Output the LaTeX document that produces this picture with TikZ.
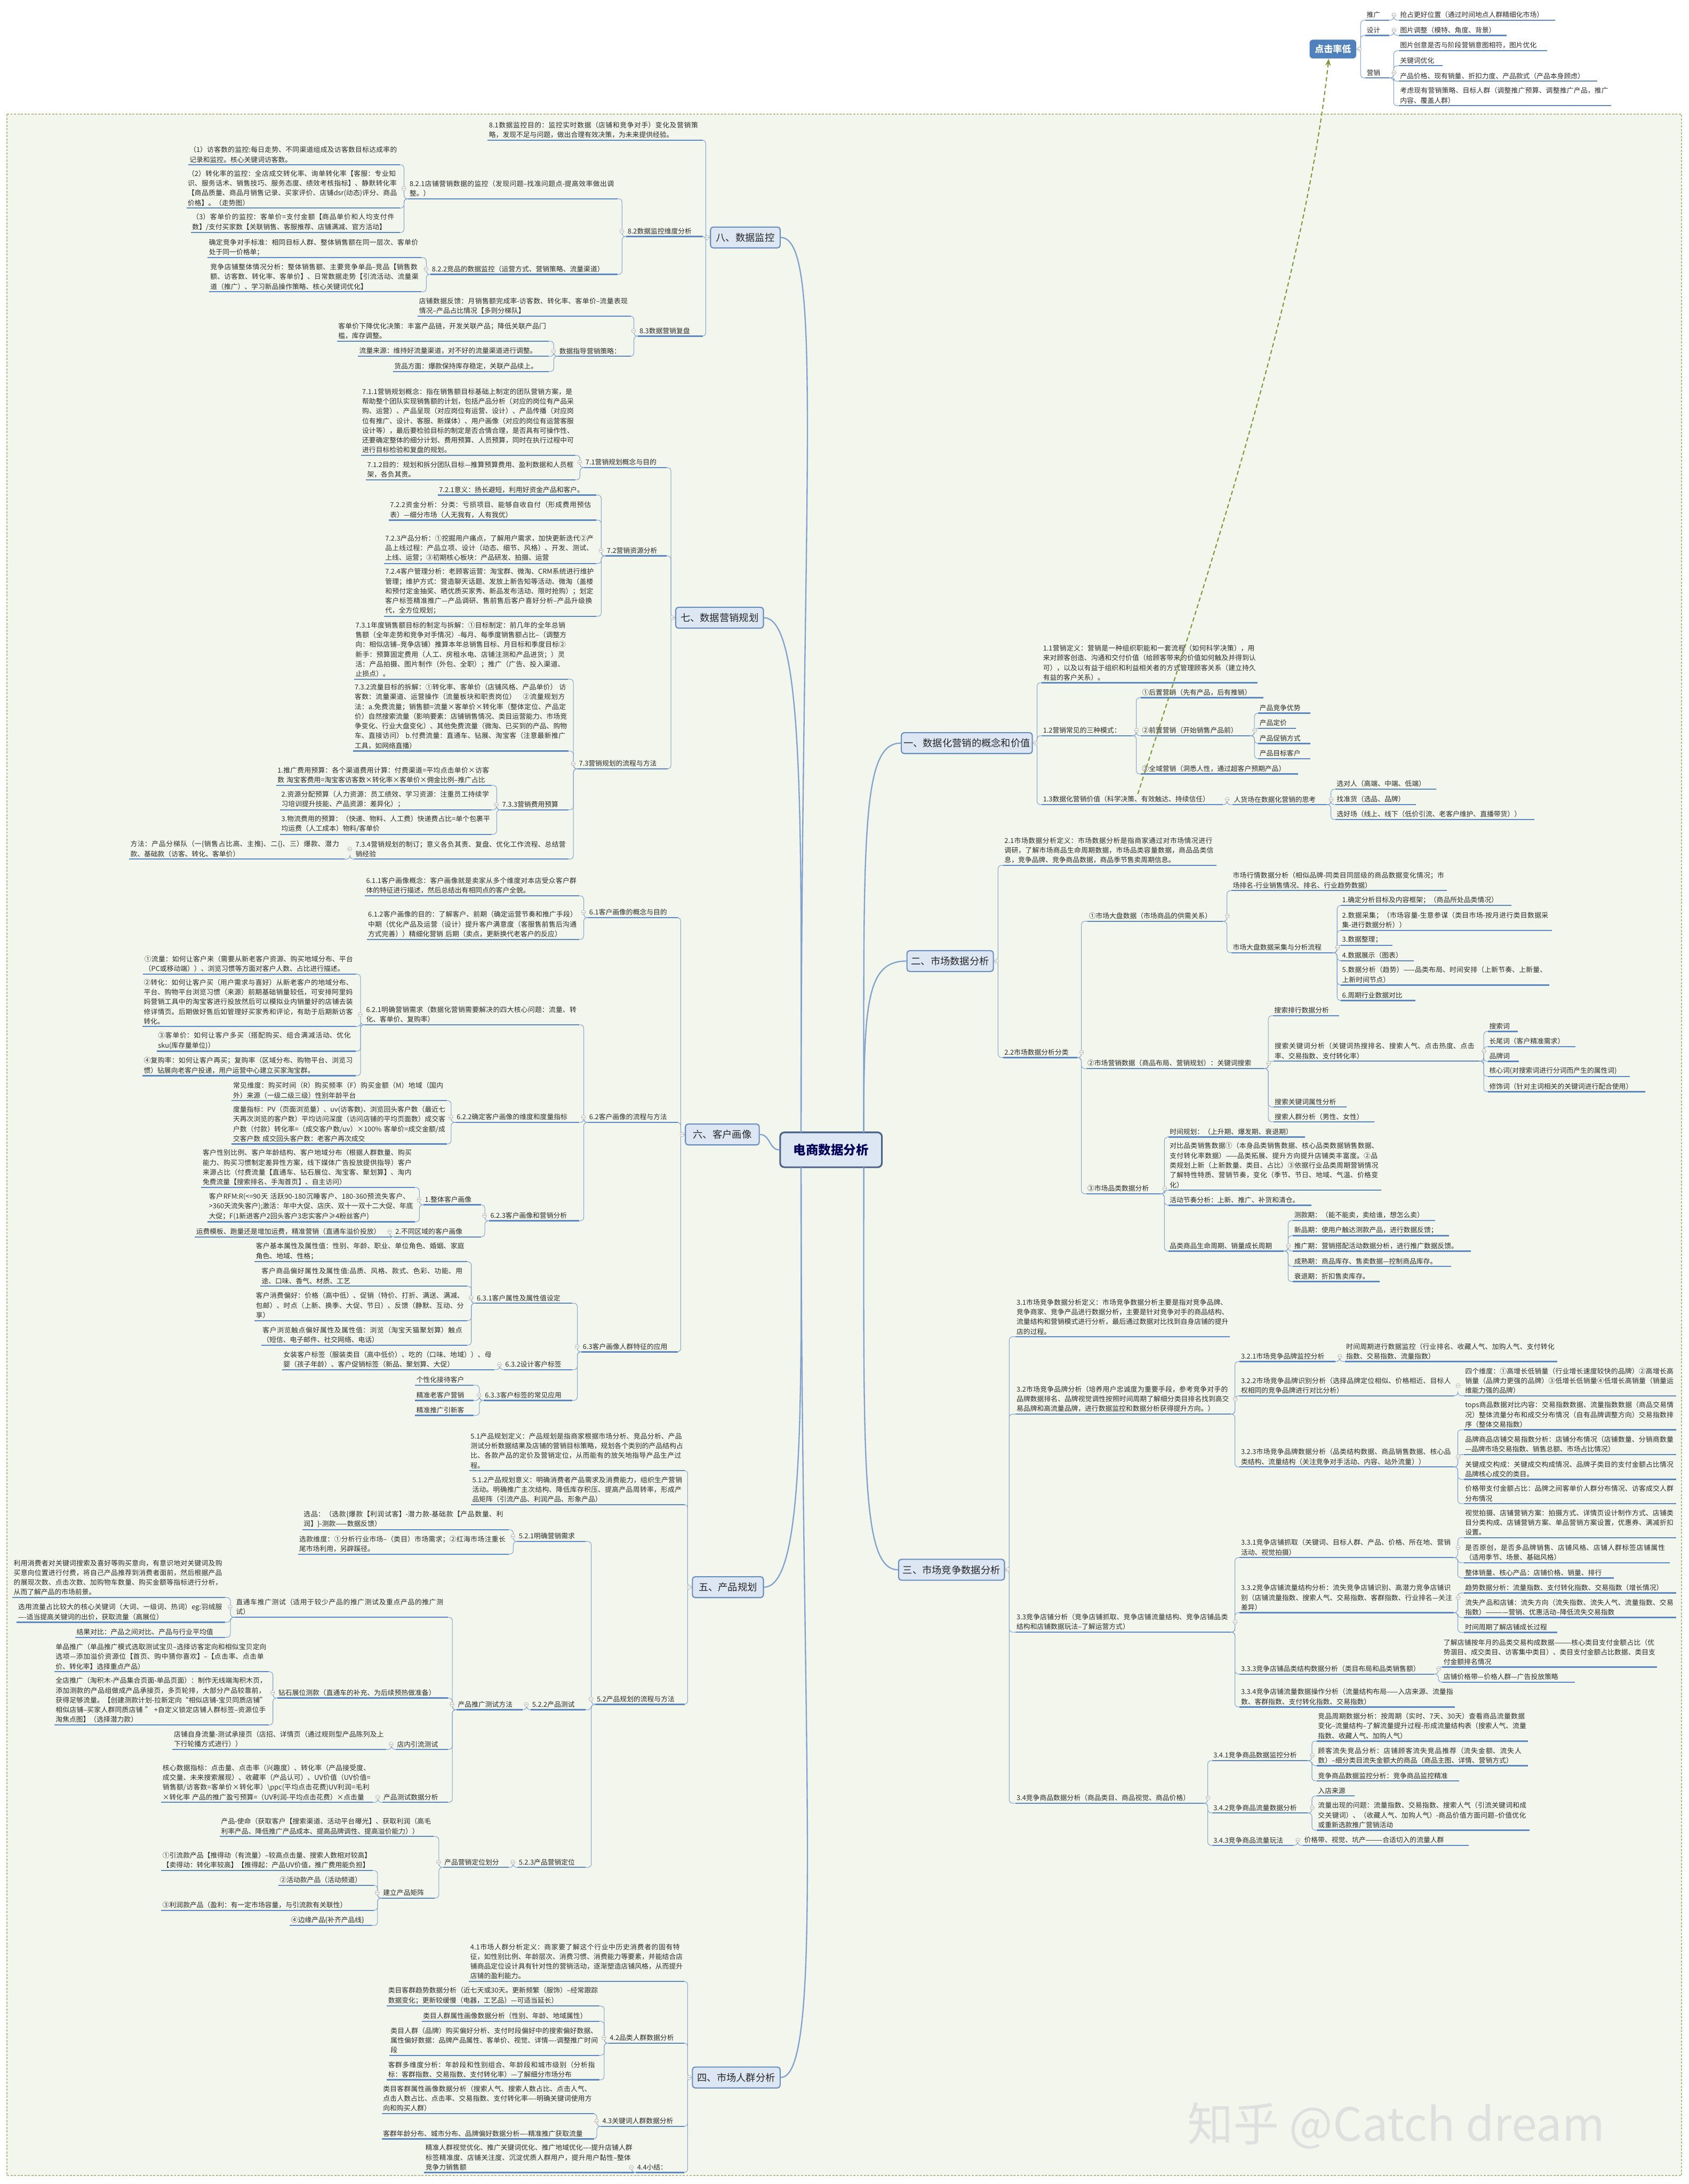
\documentclass[tikz,border=0pt]{standalone}
\usepackage{fontspec}
\setmainfont{Noto Sans CJK SC}
\XeTeXlinebreaklocale "zh"
\XeTeXlinebreakskip=0pt plus 1pt
\usetikzlibrary{arrows.meta}
\definecolor{ulc}{HTML}{5B87C5}
\definecolor{cnc}{HTML}{7FA2D0}
\definecolor{bgc}{HTML}{F3F6EC}
\definecolor{bdc}{HTML}{B4B98A}
\definecolor{boxf}{HTML}{DDE7F4}
\definecolor{boxd}{HTML}{6A8DC0}
\definecolor{txc}{HTML}{2B2B2B}
\definecolor{arrc}{HTML}{7A9A3A}
\definecolor{topf}{HTML}{4F81BD}
\tikzset{
  leaf/.style={inner xsep=0.8pt, inner ysep=1.3pt, align=left, font=\fontsize{4.9}{7}\selectfont, text=txc},
  ul/.style={draw=ulc, line width=0.9pt},
  conn/.style={draw=cnc, line width=0.4pt, rounded corners=2.5pt},
  coll/.style={circle, draw=gray!60, fill=white, line width=0.3pt, inner sep=0pt, minimum size=3pt,
    path picture={\draw[gray!70, line width=0.3pt] ([xshift=-0.9pt]path picture bounding box.center) -- ([xshift=0.9pt]path picture bounding box.center);}},
  lvlone/.style={draw=boxd, fill=boxf, rounded corners=2pt, line width=0.8pt, font=\fontsize{7}{8}\selectfont, text=black!85, minimum height=15pt, inner xsep=1pt},
  cbox/.style={draw=boxd!70!black, fill=boxf, rounded corners=3pt, line width=1.2pt, font=\fontsize{9}{10}\selectfont\bfseries, text=blue!35!black, minimum width=73pt, minimum height=25pt},
  topbox/.style={fill=topf, rounded corners=2.5pt, text=white, font=\fontsize{6.5}{7}\selectfont\bfseries, minimum width=33.5pt, minimum height=13.5pt, inner sep=0pt},
  mainln/.style={draw=cnc, line width=0.9pt}
}
\newcommand\MN[5]{\pgfmathsetmacro\tw{#3-#2-1.6}\node[leaf,text width=\tw pt,anchor=south west] (#1) at (#2,#4) {#5};\draw[ul] (#1.south west) -- (#1.south east);}
\newcommand\MS[5]{\MN{#1}{#2}{#3}{#4}{\mbox{#5}}}
\newcommand\LL[2]{\foreach \kid in {#2}{\draw[conn] (#1.south west) -- ++(-3,0) |- (\kid.south east);}\node[coll] at ([xshift=-3.2pt]#1.west) {};}
\newcommand\RR[2]{\foreach \kid in {#2}{\draw[conn] (#1.south east) -- ++(3,0) |- (\kid.south west);}\node[coll] at ([xshift=3.2pt]#1.east) {};}
\newcommand\LB[2]{\foreach \kid in {#2}{\draw[conn] (#1.west) -- ++(-3,0) |- (\kid.south east);}\node[coll] at ([xshift=-2pt]#1.west) {};}
\newcommand\RB[2]{\foreach \kid in {#2}{\draw[conn] (#1.east) -- ++(3,0) |- (\kid.south west);}\node[coll] at ([xshift=2pt]#1.east) {};}
\begin{document}
\begin{tikzpicture}[x=1pt,y=-1pt]
\useasboundingbox (0,0) rectangle (1212,1568);
\fill[white] (0,0) rectangle (1212,1568);
\fill[bgc] (5,82) rectangle (1207,1562);
\draw[bdc, line width=0.8pt, dash pattern=on 1.5pt off 1pt] (5,82) rectangle (1207,1562);

% ===== top right group =====
\node[topbox] (ctr0) at (956.75,35.25) {点击率低};
\MS{tg}{980}{997}{14.5}{推广}
\MS{sj}{980}{997}{25.4}{设计}
\MS{yx}{980}{997}{56}{营销}
\MS{tga}{1004}{1116}{14.5}{抢占更好位置（通过时间地点人群精细化市场）}
\MS{sja}{1004}{1081}{25.4}{图片调整（模特、角度、背景）}
\MS{yxa}{1004}{1110}{36.4}{图片创意是否与阶段营销意图相符，图片优化}
\MS{yxb}{1004}{1035}{47.2}{关键词优化}
\MS{yxc}{1004}{1146}{58.3}{产品价格、现有销量、折扣力度、产品款式（产品本身顾虑）}
\MN{yxd}{1004}{1156}{75.9}{考虑现有营销策略、目标人群（调整推广预算、调整推广产品，推广内容、覆盖人群）}
\RB{ctr0}{tg,sj,yx}
\RR{tg}{tga}
\RR{sj}{sja}
\RR{yx}{yxa,yxb,yxc,yxd}

% ===== first level boxes =====
\node[cbox] (c) at (596.5,825.5) {电商数据分析};
\node[lvlone, minimum width=50pt] (t8) at (535,170.5) {八、数据监控};
\node[lvlone, minimum width=63pt] (t7) at (516.5,443.5) {七、数据营销规划};
\node[lvlone, minimum width=53pt] (t6) at (518.5,814.5) {六、客户画像};
\node[lvlone, minimum width=51pt] (t5) at (522.5,1139.5) {五、产品规划};
\node[lvlone, minimum width=63pt] (t4) at (528.5,1491.5) {四、市场人群分析};
\node[lvlone, minimum width=94pt] (t1) at (694,533.5) {一、数据化营销的概念和价值};
\node[lvlone, minimum width=62pt] (t2) at (682,690) {二、市场数据分析};
\node[lvlone, minimum width=76pt] (t3) at (683,1127) {三、市场竞争数据分析};

\draw[mainln] (575,813) .. controls (575,350) and (592,170.5) .. (t8.east);
\draw[mainln] (575,813) .. controls (575,600) and (578,443.5) .. (t7.east);
\draw[mainln] (c.west) .. controls (552,825.5) and (553,814.5) .. (t6.east);
\draw[mainln] (575,838) .. controls (575,1000) and (578,1139.5) .. (t5.east);
\draw[mainln] (575,838) .. controls (575,1250) and (592,1491.5) .. (t4.east);
\draw[mainln] (620,813) .. controls (620,600) and (618,533.5) .. (t1.west);
\draw[mainln] (620,813) .. controls (620,720) and (622,690) .. (t2.west);
\draw[mainln] (620,838) .. controls (620,1050) and (618,1127) .. (t3.west);

% ===== 八 =====
\MN{e1}{350}{504}{100.7}{8.1数据监控目的：监控实时数据（店铺和竞争对手）变化及营销策略，发现不足与问题，做出合理有效决策，为未来提供经验。}
\MS{e2}{449.5}{504}{169.8}{8.2数据监控维度分析}
\MS{e3}{458}{504}{241.3}{8.3数据营销复盘}
\MN{e21}{293}{443}{142.7}{8.2.1店铺营销数据的监控（发现问题--找准问题点-提高效率做出调整。）}
\MS{e22}{309}{443}{197}{8.2.2竞品的数据监控（运营方式、营销策略、流量渠道）}
\MN{e211}{135}{286.6}{118.3}{（1）访客数的监控:每日走势、不同渠道组成及访客数目标达成率的记录和监控。核心关键词访客数。}
\MN{e212}{133.8}{286.6}{149.4}{（2）转化率的监控：全店成交转化率、询单转化率【客服：专业知识、服务话术、销售技巧、服务态度、绩效考核指标】、静默转化率【商品质量、商品月销售记录、买家评价、店铺dsr(动态)评分、商品价格】。（走势图）}
\MN{e213}{137}{286.6}{167}{（3）客单价的监控：客单价=支付金额【商品单价和人均支付件数】/支付买家数【关联销售、客服推荐、店铺满减、官方活动】}
\MN{e221}{149}{302}{185}{确定竞争对手标准：相同目标人群、整体销售额在同一层次、客单价处于同一价格单；}
\MN{e222}{150}{302}{209.5}{竞争店铺整体情况分析：整体销售额、主要竞争单品--竞品【销售数额、访客数、转化率、客单价】、日常数据走势【引流活动、流量渠道（推广）、学习新品操作策略、核心关键词优化】}
\MN{e31}{299.8}{452.6}{227}{店铺数据反馈：月销售额完成率-访客数、转化率、客单价--流量表现情况--产品占比情况【多则分梯队】}
\MS{e32}{400.5}{452.6}{255.8}{数据指导营销策略：}
\MN{e321}{241.8}{393.4}{245}{客单价下降优化决策：丰富产品链，开发关联产品；降低关联产品门槛，库存调整。}
\MS{e322}{256.9}{393.4}{255.8}{流量来源：维持好流量渠道，对不好的流量渠道进行调整。}
\MS{e323}{282}{393.4}{266.7}{货品方面：爆款保持库存稳定，关联产品续上。}
\LB{t8}{e1,e2,e3}
\LL{e2}{e21,e22}
\LL{e21}{e211,e212,e213}
\LL{e22}{e221,e222}
\LL{e3}{e31,e32}
\LL{e32}{e321,e322,e323}

% ===== 七 =====
\MN{s11}{259}{412.5}{326.9}{7.1.1营销规划概念：指在销售额目标基础上制定的团队营销方案，是帮助整个团队实现销售额的计划，包括产品分析（对应的岗位有产品采购、运营）、产品呈现（对应岗位有运营、设计）、产品传播（对应岗位有推广、设计、客服、新媒体）、用户画像（对应的岗位有运营客服设计等），最后要检验目标的制定是否合情合理，是否具有可操作性、还要确定整体的细分计划、费用预算、人员预算，同时在执行过程中可进行目标检验和复盘的规划。}
\MN{s12}{262.6}{412.5}{344.5}{7.1.2目的：规划和拆分团队目标---推算预算费用、盈利数据和人员框架，各负其责。}
\MS{s1}{419.3}{478}{335.7}{7.1营销规划概念与目的}
\MS{s21}{314.2}{427.4}{355.4}{7.2.1意义：扬长避短，利用好资金产品和客户。}
\MN{s22}{279}{427.4}{373.4}{7.2.2资金分析：分类：亏损项目、能够自收自付（形成费用预估表）---细分市场（人无我有，人有我优）}
\MN{s23}{275.5}{427.4}{404.6}{7.2.3产品分析：①挖掘用户痛点，了解用户需求，加快更新迭代②产品上线过程：产品立项、设计（动态、细节、风格）、开发、测试、上线、运营；③初期核心板块：产品研发、拍摄、运营}
\MN{s24}{275.5}{427.4}{442.5}{7.2.4客户管理分析：老顾客运营：淘宝群、微淘、CRM系统进行维护管理；维护方式：营造聊天话题、发放上新告知等活动、微淘（盖楼和预付定金抽奖、晒优质买家秀、新品发布活动、限时抢购）；划定客户标签精准推广---产品调研、售前售后客户喜好分析--产品升级换代，全方位规划；}
\MS{s2}{434.6}{478}{399.1}{7.2营销资源分析}
\MN{s31}{254.2}{407.3}{487.6}{7.3.1年度销售额目标的制定与拆解：①目标制定：前几年的全年总销售额（全年走势和竞争对手情况）-每月、每季度销售额占比--（调整方向：相似店铺--竞争店铺）推算本年总销售目标、月目标和季度目标②新手：预算固定费用（人工、房租水电、店铺注测和产品进货；）灵活：产品拍摄、图片制作（外包、全职）；推广（广告、投入渠道、止损点）。}
\MN{s32}{253.6}{407.8}{539.2}{7.3.2流量目标的拆解：①转化率、客单价（店铺风格、产品单价）\ 访客数：流量渠道、运营操作（流量板块和职责岗位）\quad ②流量规划方法：a.免费流量；销售额=流量×客单价×转化率（整体定位、产品定价）自然搜索流量（影响要素：店铺销售情况、类目运营能力、市场竞争变化、行业大盘变化）、其他免费流量（微淘、已买到的产品、购物车、直接访问）\ b.付费流量：直通车、钻展、淘宝客（注意最新推广工具，如网络直播）}
\MS{s3}{414.6}{478.8}{552}{7.3营销规划的流程与方法}
\MS{s33}{359.5}{407.8}{581.4}{7.3.3营销费用预算}
\MN{s331}{198.2}{352.7}{563.8}{1.推广费用预算：各个渠道费用计算：付费渠道=平均点击单价×访客数 淘宝客费用=淘宝客访客数×转化率×客单价×佣金比例--推广占比}
\MN{s332}{201}{352.7}{581.4}{2.资源分配预算（人力资源：员工绩效、学习资源：注重员工持续学习培训提升技能、产品资源：差异化）；}
\MN{s333}{201}{352.7}{599}{3.物流费用的预算：（快递、物料、人工费）快递费占比=单个包裹平均运费（人工成本）物料/客单价}
\MN{s34}{254.2}{407.8}{616.8}{7.3.4营销规划的制订；意义各负其责、复盘、优化工作流程、总结营销经验}
\MN{s341}{92.6}{246.8}{616.8}{方法：产品分梯队（一\{销售占比高、主推\}、二\{\}、三）爆款、潜力款、基础款（访客、转化、客单价）}
\LB{t7}{s1,s2,s3}
\LL{s1}{s11,s12}
\LL{s2}{s21,s22,s23,s24}
\LL{s3}{s31,s32,s33,s34}
\LL{s33}{s331,s332,s333}
\LL{s34}{s341}

% ===== 六 =====
\MN{x11}{261.8}{415.5}{643.2}{6.1.1客户画像概念：客户画像就是卖家从多个维度对本店受众客户群体的特征进行描述，然后总结出有相同点的客户全貌。}
\MN{x12}{263.2}{415.5}{674.4}{6.1.2客户画像的目的：了解客户、前期（确定运营节奏和推广手段）中期（优化产品及运营（设计）提升客户满意度（客服售前售后沟通方式完善））精细化营销 后期（卖点，更新换代老客户的反应）}
\MS{x1}{422}{486.4}{658.8}{6.1客户画像的概念与目的}
\MN{x21}{261.8}{415.5}{735.7}{6.2.1明确营销需求（数据化营销需要解决的四大核心问题：流量、转化、客单价、复购率）}
\MN{x211}{102.7}{255}{699.3}{①流量：如何让客户来（需要从新老客户资源、购买地域分布、平台（PC或移动端））、浏览习惯等方面对客户人数、占比进行描述。}
\MN{x212}{102.2}{255}{737}{②转化：如何让客户买（用户需求与喜好）从新老客户的地域分布、平台、购物平台浏览习惯（来源）前期基础销量较低，可安排阿里妈妈营销工具中的淘宝客进行投放然后可以模拟业内销量好的店铺去装修详情页。后期做好售后如管理好买家秀和评论，有助于后期新访客转化。}
\MN{x213}{112.5}{255}{754.7}{③客单价：如何让客户多买（搭配购买、组合满减活动、优化sku(库存量单位)）}
\MN{x214}{102.2}{255}{772.3}{④复购率：如何让客户再买；复购率（区域分布、购物平台、浏览习惯）钻展向老客户投递，用户运营中心建立买家淘宝群。}
\MS{x2}{422}{486.4}{805.8}{6.2客户画像的流程与方法}
\MS{x22}{326.8}{415.5}{805.8}{6.2.2确定客户画像的维度和度量指标}
\MN{x221}{166.3}{320.5}{790.2}{常见维度：购买时间（R）购买频率（F）购买金额（M）地域（国内外）来源（一级二级三级）性别年龄平台}
\MN{x222}{166.3}{320.5}{821.3}{度量指标：PV（页面浏览量）、uv(访客数)、浏览回头客户数（最近七天再次浏览的客户数）平均访问深度（访问店铺的平均页面数）成交客户数（付款）转化率=（成交客户数/uv）×100\% 客单价=成交金额/成交客户数 成交回头客户数：老客户再次成交}
\MS{x23}{351}{415.5}{876.5}{6.2.3客户画像和营销分析}
\MS{x231}{304}{345}{865}{1.整体客户画像}
\MN{x2311}{144.5}{297.3}{852.5}{客户性别比例、客户年龄结构、客户地域分布（根据人群数量、购买能力、购买习惯制定差异性方案，线下媒体广告投放提供指导）客户来源占比（付费流量【直通车、钻石展位、淘宝客、聚划算】、淘内免费流量【搜索排名、手淘首页】、自主访问）}
\MN{x2312}{149}{297.3}{877.2}{客户RFM:R(<=90天 活跃90-180沉睡客户、180-360预流失客户、>360天流失客户);激活：年中大促、店庆、双十一双十二大促、年底大促；F(1新进客户2回头客户3忠实客户≥4粉丝客户)}
\MS{x232}{282.8}{345}{888}{2.不同区域的客户画像}
\MS{x2321}{139.8}{281}{888}{运费模板、跑量还是增加运费，精准营销（直通车溢价投放）}
\MS{x3}{417.4}{486.3}{970.6}{6.3客户画像人群特征的应用}
\MS{x31}{341.3}{410.3}{935.6}{6.3.1客户属性及属性值设定}
\MN{x311}{182.7}{335}{905.8}{客户基本属性及属性值：性别、年龄、职业、单位角色、婚姻、家庭角色、地域、性格；}
\MN{x312}{186.8}{335}{923.4}{客户商品偏好属性及属性值:品质、风格、款式、色彩、功能、用途、口味、香气、材质、工艺}
\MN{x313}{182.7}{334.8}{948.1}{客户消费偏好：价格（高中低）、促销（特价、打折、满送、满减、包邮）、时点（上新、换季、大促、节日）、反馈（静默、互动、分享）}
\MN{x314}{187.5}{334.8}{965.8}{客户浏览触点偏好属性及属性值：浏览（淘宝天猫聚划算）触点（短信、电子邮件、社交网络、电话）}
\MS{x32}{361.7}{410.3}{983.4}{6.3.2设计客户标签}
\MN{x321}{202.4}{354.6}{983.4}{女装客户标签（服装类目（高中低价）、吃的（口味、地域））、母婴（孩子年龄）、客户促销标签（新品、聚划算、大促）}
\MS{x33}{347.1}{410.3}{1005.4}{6.3.3客户标签的常见应用}
\MS{x331}{297.9}{339.7}{994.5}{个性化接待客户}
\MS{x332}{297.9}{339.7}{1005.4}{精准老客户营销}
\MS{x333}{297.9}{339.7}{1016.2}{精准推广引新客}
\LB{t6}{x1,x2,x3}
\LL{x1}{x11,x12}
\LL{x2}{x21,x22,x23}
\LL{x21}{x211,x212,x213,x214}
\LL{x22}{x221,x222}
\LL{x23}{x231,x232}
\LL{x231}{x2311,x2312}
\LL{x232}{x2321}
\LL{x3}{x31,x32,x33}
\LL{x31}{x311,x312,x313,x314}
\LL{x32}{x321}
\LL{x33}{x331,x332,x333}

% ===== 五 =====
\MN{w1}{336.8}{491.2}{1055.8}{5.1产品规划定义：产品规划是指商家根据市场分析、竞品分析、产品测试分析数据结果及店铺的营销目标策略，规划各个类别的产品结构占比、各款产品的定价及营销定位，从而能有的放矢地指导产品生产过程。}
\MN{w12}{338}{491.2}{1080.2}{5.1.2产品规划意义：明确消费者产品需求及消费能力，组织生产营销活动。明确推广主次结构、降低库存积压、提高产品周转率，形成产品矩阵（引流产品、利润产品、形象产品）}
\MS{w2}{427.4}{491.2}{1223.6}{5.2产品规划的流程与方法}
\MS{w21}{371.4}{420}{1106.7}{5.2.1明确营销需求}
\MN{w211}{217}{364.9}{1098.2}{选品：（选款\{爆款【利润试客】-潜力款-基础款【产品数量、利润】\}-测款——数据反馈）}
\MN{w212}{213.8}{364.9}{1115.8}{选款维度：①分析行业市场--（类目）市场需求；②红海市场注重长尾市场利用，另辟蹊径。}
\MS{w22}{381}{420}{1227.5}{5.2.2产品测试}
\MS{w221}{327.7}{374.6}{1227.5}{产品推广测试方法}
\MN{w2211}{168.4}{321.2}{1161.1}{直通车推广测试（适用于较少产品的推广测试及重点产品的推广测试）}
\MN{w22111}{8.85}{161}{1146.9}{利用消费者对关键词搜索及喜好等购买意向，有意识地对关键词及购买意向位置进行付费，将自己产品推荐到消费者面前，然后根据产品的展现次数、点击次数、加购物车数量、购买金额等指标进行分析，从而了解产品的市场前景。}
\MN{w22112}{12}{161}{1164.7}{选用流量占比较大的核心关键词（大词、一级词、热词）eg:羽绒服----适当提高关键词的出价，获取流量（高展位）}
\MS{w22113}{54}{161}{1175.5}{结果对比：产品之间对比、产品与行业平均值}
\MS{w2212}{198.9}{321.2}{1219.1}{钻石展位测款（直通车的补充、为后续预热做准备）}
\MN{w22121}{39}{192.4}{1200.2}{单品推广（单品推广模式选取测试宝贝--选择访客定向和相似宝贝定向选项---添加溢价资源位【首页、购中猜你喜欢】--【点击率、点击单价、转化率】选择重点产品）}
\MN{w22122}{39}{192.4}{1238.4}{全店推广（淘积木-产品集合页面-单品页面）：制作无线端淘积木页，添加测款的产品组做成产品承接页，多页轮排，大部分产品较靠前，获得足够流量。【创建测款计划-拉新定向“相似店铺-宝贝同质店铺”相似店铺--买家人群同质店铺 ” +自定义锁定店铺人群标签--资源位手淘焦点图】（选择潜力款）}
\MS{w2213}{284}{321.2}{1256}{店内引流测试}
\MN{w22131}{123.8}{276.9}{1256}{店铺自身流量-测试承接页（店招、详情页（通过规则型产品陈列及上下行轮播方式进行））}
\MS{w2214}{274.3}{321.2}{1294}{产品测试数据分析}
\MN{w22141}{115.7}{267.2}{1294}{核心数据指标：点击量、点击率（兴趣度）、转化率（产品接受度、成交量、未来搜索展现）、收藏率（产品认可）、UV价值（UV价值=销售额/访客数=客单价×转化率）\textbackslash ppc(平均点击花费)UV利润=毛利×转化率\ 产品的推广盈亏预算=（UV利润-平均点击花费）×点击量}
\MS{w23}{371.4}{420}{1340.7}{5.2.3产品营销定位}
\MS{w231}{318}{364.9}{1340.7}{产品营销定位划分}
\MN{w2311}{157.7}{310.9}{1318.5}{产品-使命（获取客户【搜索渠道、活动平台曝光】、获取利润（高毛利率产品、降低推广产品成本、提高品牌调性、提高溢价能力））}
\MS{w2314}{274}{311.6}{1362.7}{建立产品矩阵}
\MN{w2312}{115.7}{267.2}{1342.9}{①引流款产品【推得动（有流量）--较高点击量、搜索人数相对较高】【卖得动：转化率较高】【推得起：产品UV价值，推广费用能负担】}
\MS{w2313}{199.8}{267.8}{1353.5}{②活动款产品（活动频道）}
\MN{w2315}{115.7}{267.8}{1371.5}{③利润款产品（盈利：有一定市场容量，与引流款有关联性）}
\MS{w2316}{208}{266.9}{1382.4}{④边缘产品\{补齐产品线\}}
\LB{t5}{w1,w12,w2}
\LL{w2}{w21,w22,w23}
\LL{w21}{w211,w212}
\LL{w22}{w221}
\LL{w221}{w2211,w2212,w2213,w2214}
\LL{w2211}{w22111,w22112,w22113}
\LL{w2212}{w22121,w22122}
\LL{w2213}{w22131}
\LL{w2214}{w22141}
\LL{w23}{w231}
\LL{w231}{w2311,w2314}
\LL{w2314}{w2312,w2313,w2315,w2316}

% ===== 四 =====
\MN{f1}{336.6}{490.9}{1422.5}{4.1市场人群分析定义：商家要了解这个行业中历史消费者的固有特征，如性别比例、年龄层次、消费习惯、消费能力等要素，并能结合店铺商品定位设计具有针对性的营销活动，逐渐塑造店铺风格，从而提升店铺的盈利能力。}
\MS{f2}{436.7}{490.9}{1466.8}{4.2品类人群数据分析}
\MN{f21}{277.6}{430}{1440.2}{类目客群趋势数据分析（近七天或30天。更新频繁（服饰）--经常跟踪数据变化；更新较缓慢（电器，工艺品）---可适当延长）}
\MS{f22}{302.7}{430}{1451.2}{类目人群属性画像数据分析（性别、年龄、地域属性）}
\MN{f23}{279.4}{430}{1475.6}{类目人群（品牌）购买偏好分析、支付时段偏好中的搜索偏好数据、属性偏好数据：品牌产品属性、客单价、视觉、详情----调整推广时间段}
\MN{f24}{277.6}{430}{1493.2}{客群多维度分析：年龄段和性别组合、年龄段和城市级别（分析指标：客群指数、交易指数、支付转化率）---了解细分市场分布}
\MS{f3}{431.4}{490.9}{1526.6}{4.3关键词人群数据分析}
\MN{f31}{274}{426}{1517.5}{类目客群属性画像数据分析（搜索人气、搜索人数占比、点击人气、点击人数占比、点击率、交易指数、支付转化率----明确关键词使用方向和购买人群）}
\MN{f32}{274}{426}{1535.6}{客群年龄分布、城市分布、品牌偏好数据分析----精准推广获取流量}
\MS{f4}{456.4}{490.9}{1559.7}{4.4小结：}
\MN{f41}{304.4}{454.6}{1559.7}{精准人群视觉优化、推广关键词优化、推广地域优化----提升店铺人群标签精准度、店铺关注度、沉淀优质人群用户，提升用户黏性--整体竞争力销售额}
\LB{t4}{f1,f2,f3,f4}
\LL{f2}{f21,f22,f23,f24}
\LL{f3}{f31,f32}
\LL{f4}{f41}

% ===== 一 =====
\MN{o1}{747.7}{902.3}{490.2}{1.1营销定义：营销是一种组织职能和一套流程（如何科学决策），用来对顾客创造、沟通和交付价值（给顾客带来的价值如何触及并得到认可），以及以有益于组织和利益相关者的方式管理顾客关系（建立持久有益的客户关系）。}
\MS{o2}{747.7}{812.2}{528.2}{1.2营销常见的三种模式：}
\MS{o21}{818.8}{906.3}{500.9}{①后置营销（先有产品，后有推销）}
\MS{o22}{818.8}{897}{528.2}{②前置营销（开始销售产品前）}
\MS{o221}{903.1}{940}{512}{产品竞争优势}
\MS{o222}{903.1}{930}{522.9}{产品定价}
\MS{o223}{903.1}{940}{533.8}{产品促销方式}
\MS{o224}{903.1}{940}{544.7}{产品目标客户}
\MS{o23}{818.8}{931.3}{555.7}{③全域营销（洞悉人性，通过超客户预期产品）}
\MS{o3}{747.7}{877.3}{577.7}{1.3数据化营销价值（科学决策、有效触达、持续信任）}
\MS{o31}{884.7}{951.9}{577.7}{人货场在数据化营销的思考}
\MS{o311}{958.5}{1030.4}{566.6}{选对人（高端、中端、低端）}
\MS{o312}{958.5}{1016}{577.7}{找准货（选品、品牌）}
\MS{o313}{958.5}{1100.8}{588.4}{选好场（线上、线下（低价引流、老客户维护、直播带货））}
\RB{t1}{o1,o2,o3}
\RR{o2}{o21,o22,o23}
\RR{o22}{o221,o222,o223,o224}
\RR{o3}{o31}
\RR{o31}{o311,o312,o313}

% ===== 二 =====
\MN{t21}{720}{872.8}{621.3}{2.1市场数据分析定义：市场数据分析是指商家通过对市场情况进行调研，了解市场商品生命周期数据，市场品类容量数据，商品品类信息，竞争品牌、竞争商品数据，商品季节售卖周期信息。}
\MS{t22}{720}{772.8}{759.3}{2.2市场数据分析分类}
\MS{t221}{780.6}{877.3}{661.4}{①市场大盘数据（市场商品的供需关系）}
\MN{t2211}{883.9}{1038.3}{639.4}{市场行情数据分析（相似品牌-同类目同层级的商品数据变化情况；市场排名-行业销售情况、排名、行业趋势数据）}
\MS{t2212}{883.9}{956.4}{684}{市场大盘数据采集与分析流程}
\MS{k1}{962.4}{1084.4}{650.1}{1.确定分析目标及内容框架；（商品所处品类情况）}
\MN{k2}{962.4}{1113.4}{668}{2.数据采集；（市场容量-生意参谋（类目市场-按月进行类目数据采集-进行数据分析））}
\MS{k3}{962.4}{999.3}{678.7}{3.数据整理；}
\MS{k4}{962.4}{1014.3}{689.7}{4.数据展示（图表）}
\MN{k5}{962.4}{1111.8}{707.2}{5.数据分析（趋势）——品类布局、时间安排（上新节奏、上新量、上新时间节点）}
\MS{k6}{962.4}{1015.6}{718.3}{6.周期行业数据对比}
\MS{t222}{779.6}{907}{767.2}{②市场营销数据（商品布局、营销规划）：关键词搜索}
\MS{t2221}{913.7}{961}{729.2}{搜索排行数据分析}
\MN{t2222}{914}{1061.6}{761.9}{搜索关键词分析（关键词热搜排名、搜索人气、点击热度、点击率、交易指数、支付转化率）}
\MS{q1}{1068}{1089}{740.5}{搜索词}
\MS{q2}{1068}{1130.5}{751.4}{长尾词（客户精准需求）}
\MS{q3}{1068}{1090}{762}{品牌词}
\MS{q4}{1068}{1169.3}{772.8}{核心词(对搜索词进行分词而产生的属性词)}
\MS{q5}{1068}{1180.5}{783.8}{修饰词（针对主词相关的关键词进行配合使用）}
\MS{t2223}{914}{966.2}{794.8}{搜索关键词属性分析}
\MS{t2224}{914}{986.1}{805.5}{搜索人群分析（男性、女性）}
\MS{t223}{779.6}{832.4}{857.1}{③市场品类数据分析}
\MS{t2231}{838.6}{936.4}{816.3}{时间规划：（上升期、爆发期、衰退期）}
\MN{t2232}{838.6}{991}{854.5}{对比品类销售数据①（本身品类销售数据、核心品类数据销售数据、支付转化率数据）——品类拓展、提升方向提升店铺类丰富度。②品类规划上新（上新数量、类目、占比）③依据行业品类周期营销情况了解特性特质、营销节奏，变化（季节、节日、地域、气温、价格变化）}
\MS{t2233}{838.6}{941.1}{865.3}{活动节奏分析：上新、推广、补货和清仓。}
\MS{t2234}{838.6}{921.2}{898.2}{品类商品生命周期、销量成长周期}
\MS{p1}{928}{1029.9}{876.2}{测款期：（能不能卖，卖给谁，想怎么卖）}
\MS{p2}{928}{1039.8}{887.2}{新品期：使用户触达测款产品，进行数据反馈；}
\MS{p3}{928}{1055.3}{898.2}{推广期：营销搭配活动数据分析，进行推广数据反馈。}
\MS{p4}{928}{1041.4}{909.2}{成熟期：商品库存、售卖数据---控制商品库存。}
\MS{p5}{928}{990.1}{920.1}{衰退期：折扣售卖库存。}
\RB{t2}{t21,t22}
\RR{t22}{t221,t222,t223}
\RR{t221}{t2211,t2212}
\RR{t2212}{k1,k2,k3,k4,k5,k6}
\RR{t222}{t2221,t2222,t2223,t2224}
\RR{t2222}{q1,q2,q3,q4,q5}
\RR{t223}{t2231,t2232,t2233,t2234}
\RR{t2234}{p1,p2,p3,p4,p5}

% ===== 三 =====
\MN{h1}{728.7}{882.4}{959.7}{3.1市场竞争数据分析定义：市场竞争数据分析主要是指对竞争品牌、竞争商家、竞争产品进行数据分析，主要是针对竞争对手的商品结构、流量结构和营销模式进行分析，最后通过数据对比找到自身店铺的提升店的过程。}
\MN{h2}{728.7}{883}{1015.3}{3.2市场竞争品牌分析（培养用户忠诚度为重要手段，参考竞争对手的品牌数据排名、品牌视觉调性按照时间周期了解细分类目排名找到高交易品牌和高流量品牌，进行数据监控和数据分析获得提升方向。）}
\MS{h21}{889.8}{958.2}{977.5}{3.2.1市场竞争品牌监控分析}
\MN{h211}{965.3}{1117.4}{977.5}{时间周期进行数据监控（行业排名、收藏人气、加购人气、支付转化指数、交易指数、流量指数）}
\MN{h22}{889.8}{1043}{1002.1}{3.2.2市场竞争品牌识别分析（选择品牌定位相似、价格相近、目标人权相同的竞争品牌进行对比分析）}
\MN{h221}{1050.7}{1202.8}{1002.1}{四个维度：①高增长低销量（行业增长速度较快的品牌）②高增长高销量（品牌力更强的品牌）③低增长低销量④低增长高销量（销量运维能力强的品牌）}
\MN{h23}{889.8}{1043}{1053.2}{3.2.3市场竞争品牌数据分析（品类结构数据、商品销售数据、核心品类结构、流量结构（关注竞争对手活动、内容、站外流量））}
\MN{h231}{1050.7}{1202.8}{1026.5}{tops商品数据对比内容：交易指数数据、流量指数数据（商品交易情况）整体流量分布和成交分布情况（自有品牌调整方向）交易指数排序（整体交易指数）}
\MN{h232}{1050.7}{1202.8}{1044.3}{品牌商品店铺交易指数分析：店铺分布情况（店铺数量、分销商数量---品牌市场交易指数、销售总额、市场占比情况）}
\MN{h233}{1050.7}{1202.8}{1062.1}{关键成交构成：关键成交构成情况、品牌子类目的支付金额占比情况品牌核心成交的类目。}
\MN{h234}{1050.7}{1202.8}{1079.6}{价格带支付金额占比：品牌之间客单价人群分布情况、访客成交人群分布情况}
\MN{h3}{728.7}{883}{1171.8}{3.3竞争店铺分析（竞争店铺抓取、竞争店铺流量结构、竞争店铺品类结构和店铺数据玩法--了解运营方式）}
\MN{h31}{889.8}{1043}{1118.3}{3.3.1竞争店铺抓取（关键词、目标人群、产品、价格、所在地、营销活动、视觉拍摄）}
\MN{h311}{1050.7}{1202.8}{1103.9}{视觉拍摄、店铺营销方案：拍摄方式、详情页设计制作方式、店铺类目分类构成、店铺营销方案、单品营销方案设置，优惠券、满减折扣设置。}
\MN{h312}{1050.7}{1198.2}{1122}{是否原创，是否多品牌销售、店铺风格、店铺人群标签店铺属性（适用季节、场景、基础风格）}
\MS{h313}{1050.7}{1157.8}{1132.9}{整体销量、核心产品：店铺价格、销量、排行}
\MN{h32}{889.8}{1043}{1157.8}{3.3.2竞争店铺流量结构分析：流失竞争店铺识别、高潜力竞争店铺识别（店铺流量指数、搜索人气、交易指数、客群指数、行业排名---关注差异）}
\MS{h321}{1050.7}{1202.8}{1143.7}{趋势数据分析：流量指数、支付转化指数、交易指数（增长情况）}
\MN{h322}{1050.7}{1202.8}{1161.3}{流失产品和店铺：流失方向（流失指数、流失人气、流量指数、交易指数）————营销、优惠活动--降低流失交易指数}
\MS{h323}{1050.7}{1117.4}{1172}{时间周期了解店铺成长过程}
\MS{h33}{889.8}{1029}{1201.9}{3.3.3竞争店铺品类结构数据分析（类目布局和品类销售额）}
\MN{h331}{1035.2}{1188.9}{1196.9}{了解店铺按年月的品类交易构成数据———核心类目支付金额占比（优势涸目、成交类目、访客集中类目）、类目支付金额占比数据、类目支付金额排名情况}
\MS{h332}{1035.2}{1129.9}{1207.7}{店铺价格带—价格人群—广告投放策略}
\MN{h34}{889.8}{1043.9}{1225.5}{3.3.4竞争店铺流量数据操作分析（流量结构布局——入店来源、流量指数、客群指数、支付转化指数、交易指数）}
\MS{h4}{728.7}{863.5}{1294.6}{3.4竞争商品数据分析（商品类目、商品视觉、商品价格）}
\MS{h41}{870}{938.3}{1264}{3.4.1竞争商品数据监控分析}
\MN{h411}{945.1}{1096.3}{1250}{竞品周期数据分析：按周期（实时、7天、30天）查看商品流量数据变化--流量结构--了解流量提升过程-形成流量结构表（搜索人气、流量指数、收藏人气、加购人气）}
\MN{h412}{945.1}{1096.3}{1267.7}{顾客流失竞品分析：店铺顾客流失竞品推荐（流失金额、流失人数）--细分类目流失金额大的商品（商品主图、详情、营销方式）}
\MS{h413}{945.1}{1047}{1278.6}{竞争商品数据监控分析：竞争商品监控精准}
\MS{h42}{870}{938.3}{1301.6}{3.4.2竞争商品流量数据分析}
\MS{h421}{945.1}{972.1}{1289.4}{入店来源}
\MN{h422}{945.1}{1097.3}{1314}{流量出现的问题：流量指数、交易指数、搜索人气（引流关键词和成交关键词）、（收藏人气、加购人气）-商品价值方面问题--价值优化或重新选款推广营销活动}
\MS{h43}{870}{928}{1324.9}{3.4.3竞争商品流量玩法}
\MS{h431}{935.2}{1053.8}{1324.9}{价格带、视觉、坑产———合适切入的流量人群}
\RB{t3}{h1,h2,h3,h4}
\RR{h2}{h21,h22,h23}
\RR{h21}{h211}
\RR{h22}{h221}
\RR{h23}{h231,h232,h233,h234}
\RR{h3}{h31,h32,h33,h34}
\RR{h31}{h311,h312,h313}
\RR{h32}{h321,h322,h323}
\RR{h33}{h331,h332}
\RR{h4}{h41,h42,h43}
\RR{h41}{h411,h412,h413}
\RR{h42}{h421,h422}
\RR{h43}{h431}

% ===== relation arrow =====
\draw[arrc, line width=0.8pt, dash pattern=on 3pt off 2pt, -{Stealth[length=5pt,width=4pt]}] ([xshift=4pt]o3.north) .. controls (878,380) and (938,190) .. ([xshift=-3pt]ctr0.south);

% ===== watermark =====
\node[font=\fontsize{33}{36}\selectfont, text=gray!25, anchor=base west, inner sep=0pt] (wm) at (852,1537) {知乎 @Catch dream};
\end{tikzpicture}
\end{document}
